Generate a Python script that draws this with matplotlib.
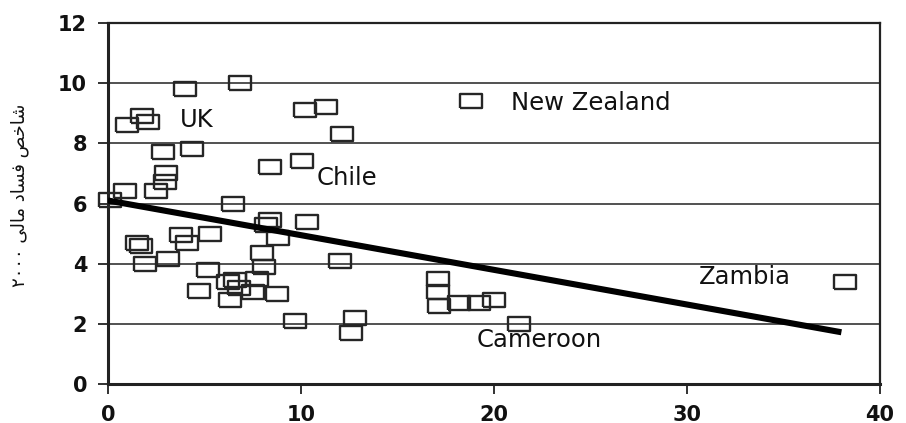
import matplotlib
matplotlib.use("Agg")
import matplotlib.pyplot as plt
from matplotlib.markers import MarkerStyle

# ---- data ----
x_vals = [0.1, 0.9, 1.0, 1.75, 2.05, 1.5, 1.7, 1.9, 2.5, 2.95, 3.0, 2.85, 4.35, 4.0,
          6.85, 3.1, 3.8, 4.1, 5.3, 5.2, 4.7, 6.5, 6.2, 6.6, 6.3, 7.7, 7.5, 6.8,
          8.75, 8.1, 8.0, 8.4, 8.2, 8.8, 10.3, 12.0, 8.4, 10.05, 10.2, 11.3, 12.1,
          9.7, 12.8, 12.6, 17.1, 17.1, 17.15, 18.2, 19.2, 20.0, 21.3, 18.8, 38.2]
y_vals = [6.1, 6.4, 8.6, 8.9, 8.7, 4.7, 4.6, 4.0, 6.4, 6.7, 7.0, 7.7, 7.8, 9.8,
          10.0, 4.15, 4.95, 4.7, 5.0, 3.8, 3.1, 6.0, 3.4, 3.45, 2.8, 3.5, 3.05, 3.2,
          3.0, 3.9, 4.35, 5.45, 5.3, 4.85, 5.4, 4.1, 7.2, 7.4, 9.1, 9.2, 8.3,
          2.1, 2.2, 1.7, 3.5, 3.05, 2.6, 2.7, 2.7, 2.8, 2.0, 9.4, 3.4]

line_x = [0, 38]
line_y = [6.1, 1.72]

labels = ["UK", "New Zealand", "Chile", "Zambia", "Cameroon"]
label_x = [3.7, 20.9, 10.8, 30.6, 19.1]
label_y = [8.78, 9.34, 6.85, 3.56, 1.46]

x_ticks = [0, 10, 20, 30, 40]
y_ticks = [0, 2, 4, 6, 8, 10, 12]

ylabel_words = ["شاخص", "فساد", "مالی"]
ylabel_number = "۲۰۰۰"

# ---- simple Arabic-script shaping (presentation forms, visual order) ----
FORMS = {
    'ا': ('\uFE8D', '\uFE8E', None, None),
    'ش': ('\uFEB5', '\uFEB6', '\uFEB7', '\uFEB8'),
    'خ': ('\uFEA5', '\uFEA6', '\uFEA7', '\uFEA8'),
    'ص': ('\uFEB9', '\uFEBA', '\uFEBB', '\uFEBC'),
    'ف': ('\uFED1', '\uFED2', '\uFED3', '\uFED4'),
    'س': ('\uFEB1', '\uFEB2', '\uFEB3', '\uFEB4'),
    'د': ('\uFEA9', '\uFEAA', None, None),
    'م': ('\uFEE1', '\uFEE2', '\uFEE3', '\uFEE4'),
    'ل': ('\uFEDD', '\uFEDE', '\uFEDF', '\uFEE0'),
    'ی': ('\uFBFC', '\uFBFD', '\uFBFE', '\uFBFF'),
}


def shape_word(w):
    out = []
    for i, c in enumerate(w):
        f = FORMS[c]
        prev_joins = i > 0 and FORMS[w[i - 1]][2] is not None
        next_joins = i < len(w) - 1 and f[2] is not None
        if prev_joins and next_joins:
            out.append(f[3])
        elif prev_joins:
            out.append(f[1])
        elif next_joins:
            out.append(f[2])
        else:
            out.append(f[0])
    return ''.join(reversed(out))


ylabel_visual = ylabel_number + " " + " ".join(shape_word(w) for w in reversed(ylabel_words))

# ---- figure ----
fig = plt.figure(figsize=(9.06, 4.23), dpi=100)
ax = fig.add_axes([108 / 906, 1 - 384 / 423, (880 - 108) / 906, (384 - 23) / 423])

ax.set_xlim(0, 40)
ax.set_ylim(0, 12)

for yt in y_ticks[1:-1]:
    ax.axhline(yt, color="#222222", lw=1.1, zorder=1)

rect = MarkerStyle([(-1.6, -1), (1.6, -1), (1.6, 1), (-1.6, 1), (-1.6, -1)])
ax.plot(x_vals, y_vals, linestyle="none", marker=rect, markersize=16,
        markerfacecolor="none", markeredgecolor="#262626", markeredgewidth=1.7,
        zorder=3, clip_on=False)

ax.plot(line_x, line_y, color="black", lw=4.4, solid_capstyle="butt", zorder=4)

for t, lx, ly in zip(labels, label_x, label_y):
    ax.text(lx, ly, t, ha="left", va="center", fontsize=17.5,
            family="DejaVu Sans", color="#111111", zorder=5)

ax.set_xticks(x_ticks)
ax.set_yticks(y_ticks)
ax.tick_params(axis="both", direction="out", length=7, width=1.3, color="#222222",
               labelsize=15, pad=8)
for lab in ax.get_xticklabels() + ax.get_yticklabels():
    lab.set_fontweight("bold")
    lab.set_family("DejaVu Sans")
    lab.set_color("#111111")

for side, sp in ax.spines.items():
    sp.set_color("#222222")
    sp.set_linewidth(2.2 if side in ("left", "bottom") else 1.6)

fig.text(20 / 906, 1 - 195 / 423, ylabel_visual, rotation=90, ha="center", va="center",
         fontsize=13, family=["DejaVu Sans"], color="#111111")

fig.savefig("out.png", dpi=100)
